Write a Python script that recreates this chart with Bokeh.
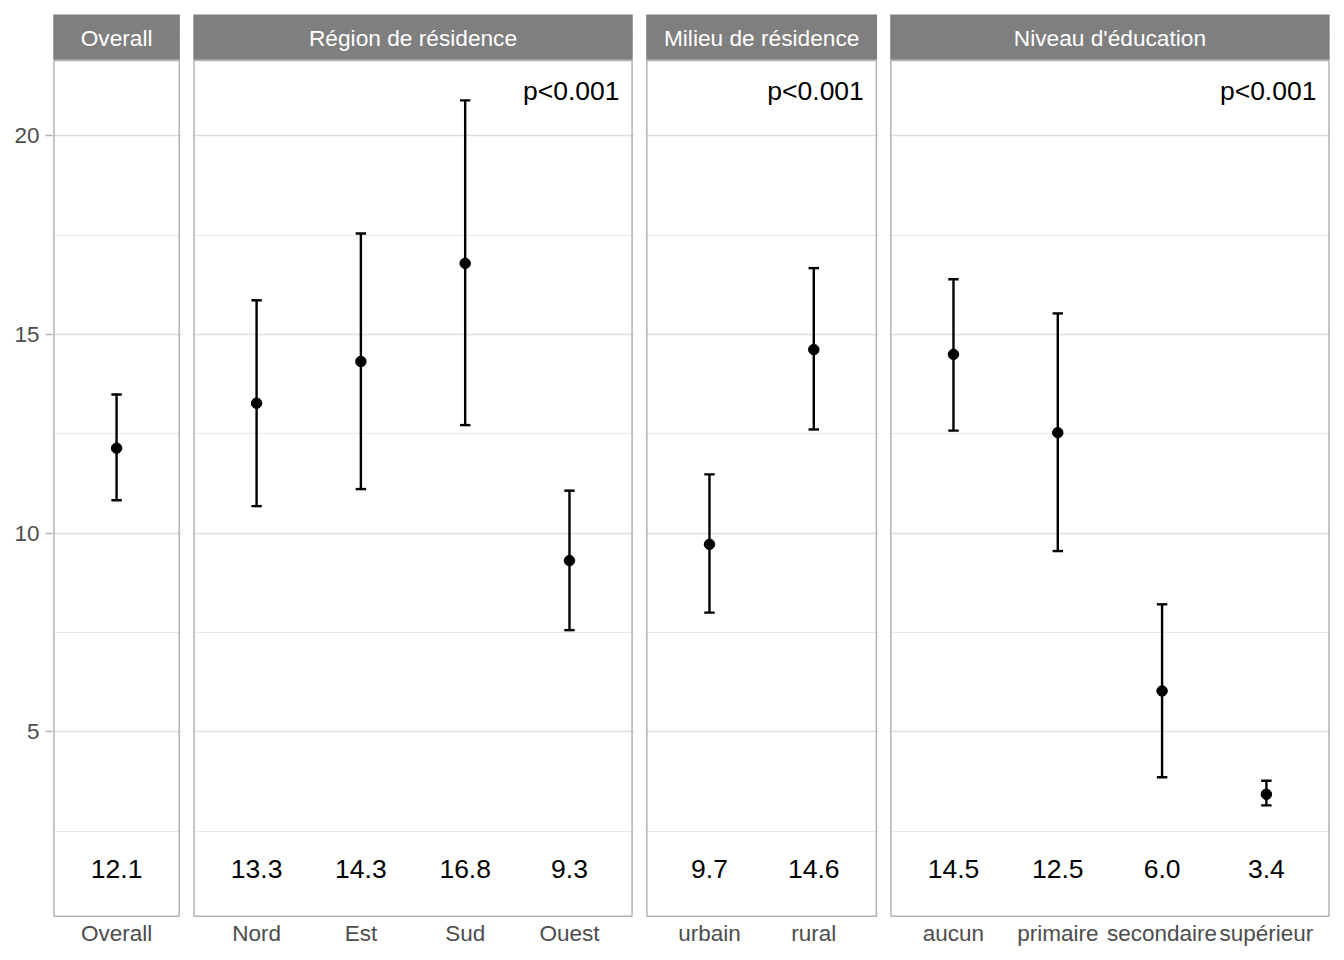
from bokeh.plotting import figure
from bokeh.layouts import row
from bokeh.models import FixedTicker, Grid, Range1d
from bokeh.core.properties import value
from bokeh.embed import file_html
from bokeh.resources import INLINE

# ---------------- data ----------------
facet_titles = ["Overall", "Région de résidence", "Milieu de résidence", "Niveau d'éducation"]

overall_cats = ["Overall"]
overall_est = [12.14]
overall_low = [10.83]
overall_high = [13.49]

region_cats = ["Nord", "Est", "Sud", "Ouest"]
region_est = [13.27, 14.32, 16.79, 9.31]
region_low = [10.68, 11.11, 12.72, 7.56]
region_high = [15.86, 17.54, 20.89, 11.07]

milieu_cats = ["urbain", "rural"]
milieu_est = [9.72, 14.62]
milieu_low = [8.00, 12.61]
milieu_high = [11.48, 16.67]

educ_cats = ["aucun", "primaire", "secondaire", "supérieur"]
educ_est = [14.50, 12.53, 6.03, 3.43]
educ_low = [12.58, 9.55, 3.86, 3.15]
educ_high = [16.39, 15.53, 8.21, 3.77]

p_values = [None, "p<0.001", "p<0.001", "p<0.001"]

y_ticks = [5, 10, 15, 20]
y_minor = [2.5, 7.5, 12.5, 17.5, 22.5]

facets = [
    (overall_cats, overall_est, overall_low, overall_high),
    (region_cats, region_est, region_low, region_high),
    (milieu_cats, milieu_est, milieu_low, milieu_high),
    (educ_cats, educ_est, educ_low, educ_high),
]

# ---------------- layout constants ----------------
FONT = value("Liberation Sans")
PX_X = 104.3          # px per x unit
PX_Y = 39.74          # px per y unit
Y_START, Y_END = 0.304, 23.077
PANEL_BOTTOM, PANEL_TOP = 0.362, 21.895
STRIP_TOP = 23.053
LABEL_Y = 1.55
PVAL_Y = 21.12
STRIP_TEXT_Y = 22.45

panel_lefts = [53.5, 193.5, 646.4, 890.4]

figs = []
prev_end = 0
for i, (cats, est, low, high) in enumerate(facets):
    n = len(cats)
    frame_left = int(round(panel_lefts[i] - 1.5))
    pad_l = panel_lefts[i] - frame_left
    fw = int(round((n + 0.2) * PX_X + pad_l + 2.0))
    bl = frame_left - prev_end
    br = 2 if i == len(facets) - 1 else 0
    prev_end = frame_left + fw + br
    x_start = 0.4 - pad_l / PX_X
    x_end = x_start + fw / PX_X
    p = figure(
        frame_width=fw, frame_height=905,
        x_range=Range1d(x_start, x_end), y_range=Range1d(Y_START, Y_END),
        output_backend="svg", toolbar_location=None,
        y_axis_location="left" if i == 0 else None,
        min_border_left=bl, min_border_right=br,
        min_border_top=13, min_border_bottom=30,
    )
    p.outline_line_color = None
    p.background_fill_color = "white"
    p.border_fill_color = "white"
    for g in p.grid:
        g.visible = False

    grid = Grid(dimension=1, ticker=FixedTicker(ticks=y_ticks, minor_ticks=y_minor),
                grid_line_color="#DEDEDE", grid_line_width=1.3,
                minor_grid_line_color="#E3E3E3", minor_grid_line_width=0.8)
    p.add_layout(grid)

    xs = list(range(1, n + 1))
    p.xaxis.ticker = FixedTicker(ticks=xs)
    p.xaxis.major_label_overrides = {k: c for k, c in zip(xs, cats)}
    p.xaxis.axis_line_color = None
    p.xaxis.major_tick_line_color = None
    p.xaxis.minor_tick_line_color = None
    p.xaxis.major_tick_out = 0
    p.xaxis.major_label_standoff = 2
    p.xaxis.major_label_text_font = "Liberation Sans"
    p.xaxis.major_label_text_font_size = "22.5px"
    p.xaxis.major_label_text_color = "#4D4D4D"

    if i == 0:
        p.yaxis.ticker = FixedTicker(ticks=y_ticks)
        p.yaxis.axis_line_color = None
        p.yaxis.minor_tick_line_color = None
        p.yaxis.major_tick_line_color = "#B3B3B3"
        p.yaxis.major_tick_line_width = 1.4
        p.yaxis.major_tick_out = 7
        p.yaxis.major_tick_in = 0
        p.yaxis.major_label_standoff = 6
        p.yaxis.major_label_text_font = "Liberation Sans"
        p.yaxis.major_label_text_font_size = "22.5px"
        p.yaxis.major_label_text_color = "#4D4D4D"

    # panel border
    p.quad(left=[0.4], right=[n + 0.6], bottom=[PANEL_BOTTOM], top=[PANEL_TOP],
           fill_color=None, line_color="#B3B3B3", line_width=1.5)
    # strip
    p.quad(left=[0.4 - 0.7 / PX_X], right=[n + 0.6 + 0.7 / PX_X],
           bottom=[PANEL_TOP + 0.6 / PX_Y], top=[STRIP_TOP],
           fill_color="#7F7F7F", line_color=None)
    p.text(x=[(n + 1) / 2], y=[STRIP_TEXT_Y], text=[facet_titles[i]],
           text_font=FONT, text_font_size="22.7px", text_color="white",
           text_align="center", text_baseline="middle")

    # error bars
    p.segment(x0=xs, y0=low, x1=xs, y1=high, line_color="black", line_width=2.4)
    p.segment(x0=[x - 0.05 for x in xs], y0=low, x1=[x + 0.05 for x in xs], y1=low,
              line_color="black", line_width=2.4)
    p.segment(x0=[x - 0.05 for x in xs], y0=high, x1=[x + 0.05 for x in xs], y1=high,
              line_color="black", line_width=2.4)
    p.scatter(x=xs, y=est, size=10.5, color="black")

    # value labels
    p.text(x=xs, y=[LABEL_Y] * n, text=[f"{v:.1f}" for v in est],
           text_font=FONT, text_font_size="26.5px", text_color="black",
           text_align="center", text_baseline="middle")

    if p_values[i]:
        p.text(x=[n + 0.48], y=[PVAL_Y], text=[p_values[i]],
               text_font=FONT, text_font_size="26.5px", text_color="black",
               text_align="right", text_baseline="middle")

    figs.append(p)

layout = row(*figs, spacing=0)
open("out.html", "w").write(file_html(layout, INLINE))
